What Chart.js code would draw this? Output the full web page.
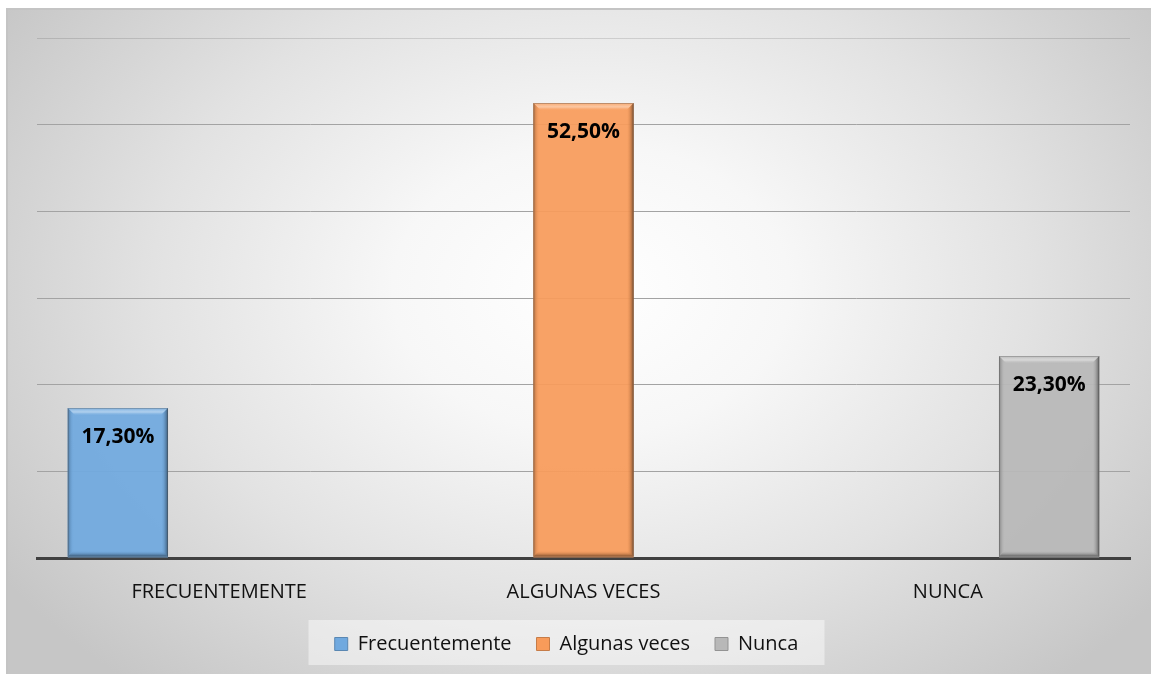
<!DOCTYPE html>
<html>
<head>
<meta charset="utf-8">
<script src="https://cdn.jsdelivr.net/npm/chart.js@4.4.1/dist/chart.umd.min.js"></script>
<style>
  html, body { margin: 0; padding: 0; background: #fff; }
  #frame {
    position: absolute; left: 6px; top: 8px; width: 1145px; height: 666px;
    box-sizing: border-box; border-top: 2px solid #c4c4c4; border-left: 2px solid #c4c4c4;
    background: radial-gradient(ellipse 62% 78% at 51% 42%, #ffffff 0%, #f7f7f7 28%, #e2e2e2 62%, #c6c6c6 100%);
  }
  #chart { position: absolute; left: 0; top: 0; }
</style>
</head>
<body>
<div id="frame"><canvas id="chart" width="1143" height="664"></canvas></div>
<script>
// categorías y valores (%)
var categorias = ['FRECUENTEMENTE', 'ALGUNAS VECES', 'NUNCA'];
var series = ['Frecuentemente', 'Algunas veces', 'Nunca'];
var frecuentemente = [17.3, null, null];
var algunasVeces = [null, 52.5, null];
var nunca = [null, null, 23.3];
var colores = ['#70a9df', '#f89b5a', '#b8b8b8'];

var FONT = "'Open Sans', 'Liberation Sans', sans-serif";

function fmt(v) {
  return v.toFixed(2).replace('.', ',') + '%';
}

function rgba(hex, amt, a) {
  var n = parseInt(hex.slice(1), 16);
  var r = (n >> 16) & 255, g = (n >> 8) & 255, b = n & 255;
  function f(c) { return Math.max(0, Math.min(255, Math.round(amt < 0 ? c * (1 + amt) : c + (255 - c) * amt))); }
  return 'rgba(' + f(r) + ',' + f(g) + ',' + f(b) + ',' + (a == null ? 1 : a) + ')';
}

// la leyenda queda un poco a la izquierda del centro, con fondo claro
var legendTweak = {
  id: 'legendTweak',
  afterLayout: function (chart) {
    chart.legend.left -= 17;
    chart.legend.right -= 17;
  },
  beforeDraw: function (chart) {
    var l = chart.legend;
    var cx = (l.left + l.right) / 2;
    var ctx = chart.ctx;
    ctx.save();
    ctx.fillStyle = 'rgba(255,255,255,0.45)';
    ctx.fillRect(cx - 258, 610, 516, 45);
    ctx.restore();
  }
};

// biselado de las barras + etiquetas de valor
var bevel = {
  id: 'bevel',
  afterDatasetsDraw: function (chart) {
    var ctx = chart.ctx;
    chart.data.datasets.forEach(function (ds, di) {
      var meta = chart.getDatasetMeta(di);
      meta.data.forEach(function (bar, i) {
        var v = ds.data[i];
        if (v == null) return;
        var p = bar.getProps(['x', 'y', 'base', 'width'], true);
        var L = p.x - p.width / 2, R = p.x + p.width / 2, T = p.y, B = p.base - 1;
        var base = colores[di], g;
        ctx.save();
        // superior
        g = ctx.createLinearGradient(0, T, 0, T + 8);
        g.addColorStop(0, rgba(base, 0.15));
        g.addColorStop(0.5, rgba(base, 0.45));
        g.addColorStop(1, rgba(base, 0.0, 0));
        ctx.fillStyle = g;
        ctx.beginPath(); ctx.moveTo(L, T); ctx.lineTo(R, T); ctx.lineTo(R - 8, T + 8); ctx.lineTo(L + 8, T + 8); ctx.closePath(); ctx.fill();
        // izquierda
        g = ctx.createLinearGradient(L, 0, L + 6, 0);
        g.addColorStop(0, rgba(base, -0.3));
        g.addColorStop(1, rgba(base, 0, 0));
        ctx.fillStyle = g;
        ctx.beginPath(); ctx.moveTo(L, T); ctx.lineTo(L + 6, T + 6); ctx.lineTo(L + 6, B - 5); ctx.lineTo(L, B); ctx.closePath(); ctx.fill();
        // derecha
        g = ctx.createLinearGradient(R, 0, R - 7, 0);
        g.addColorStop(0, rgba(base, -0.5));
        g.addColorStop(1, rgba(base, 0, 0));
        ctx.fillStyle = g;
        ctx.beginPath(); ctx.moveTo(R, T); ctx.lineTo(R - 7, T + 7); ctx.lineTo(R - 7, B - 5); ctx.lineTo(R, B); ctx.closePath(); ctx.fill();
        // inferior
        g = ctx.createLinearGradient(0, B, 0, B - 6);
        g.addColorStop(0, rgba(base, -0.5));
        g.addColorStop(1, rgba(base, 0, 0));
        ctx.fillStyle = g;
        ctx.beginPath(); ctx.moveTo(L, B); ctx.lineTo(L + 6, B - 6); ctx.lineTo(R - 6, B - 6); ctx.lineTo(R, B); ctx.closePath(); ctx.fill();
        // contorno
        ctx.strokeStyle = 'rgba(80,80,80,0.35)';
        ctx.lineWidth = 1;
        ctx.strokeRect(L + 0.5, T + 0.5, R - L - 1, B - T);
        // etiqueta
        ctx.fillStyle = '#000';
        ctx.font = "bold 21px " + FONT;
        ctx.textAlign = 'center';
        ctx.textBaseline = 'middle';
        ctx.fillText(fmt(v), p.x, T + 29);
        ctx.restore();
      });
    });
  }
};

new Chart(document.getElementById('chart'), {
  type: 'bar',
  data: {
    labels: categorias,
    datasets: [
      { label: series[0], data: frecuentemente, backgroundColor: rgba(colores[0], 0, 0.93) },
      { label: series[1], data: algunasVeces, backgroundColor: rgba(colores[1], 0, 0.93) },
      { label: series[2], data: nunca, backgroundColor: rgba(colores[2], 0, 0.93) }
    ]
  },
  options: {
    responsive: false,
    animation: false,
    layout: { padding: { left: 29, right: 21, top: 28, bottom: 10 } },
    datasets: { bar: { categoryPercentage: 0.834, barPercentage: 0.99 } },
    plugins: {
      tooltip: { enabled: false },
      legend: {
        position: 'bottom',
        labels: {
          color: '#111', boxWidth: 13, boxHeight: 13, padding: 25,
          font: { family: FONT, size: 20 },
          generateLabels: function (chart) {
            return chart.data.datasets.map(function (ds, i) {
              return { text: ds.label, fillStyle: colores[i], strokeStyle: rgba(colores[i], -0.2), lineWidth: 1, datasetIndex: i, fontColor: '#111' };
            });
          }
        }
      }
    },
    scales: {
      x: {
        grid: { display: false, drawTicks: false },
        border: { color: '#404040', width: 3 },
        ticks: { color: '#111', padding: 22, font: { family: FONT, size: 20 } },
        afterFit: function (scale) { scale.height -= 17; }
      },
      y: {
        min: 0, max: 60,
        ticks: { display: false, stepSize: 10 },
        grid: {
          color: function (c) { return c.tick && c.tick.value === 60 ? 'rgba(0,0,0,0.12)' : '#a3a3a3'; },
          drawTicks: false
        },
        border: { display: false }
      }
    }
  },
  plugins: [legendTweak, bevel]
});
</script>
</body>
</html>
